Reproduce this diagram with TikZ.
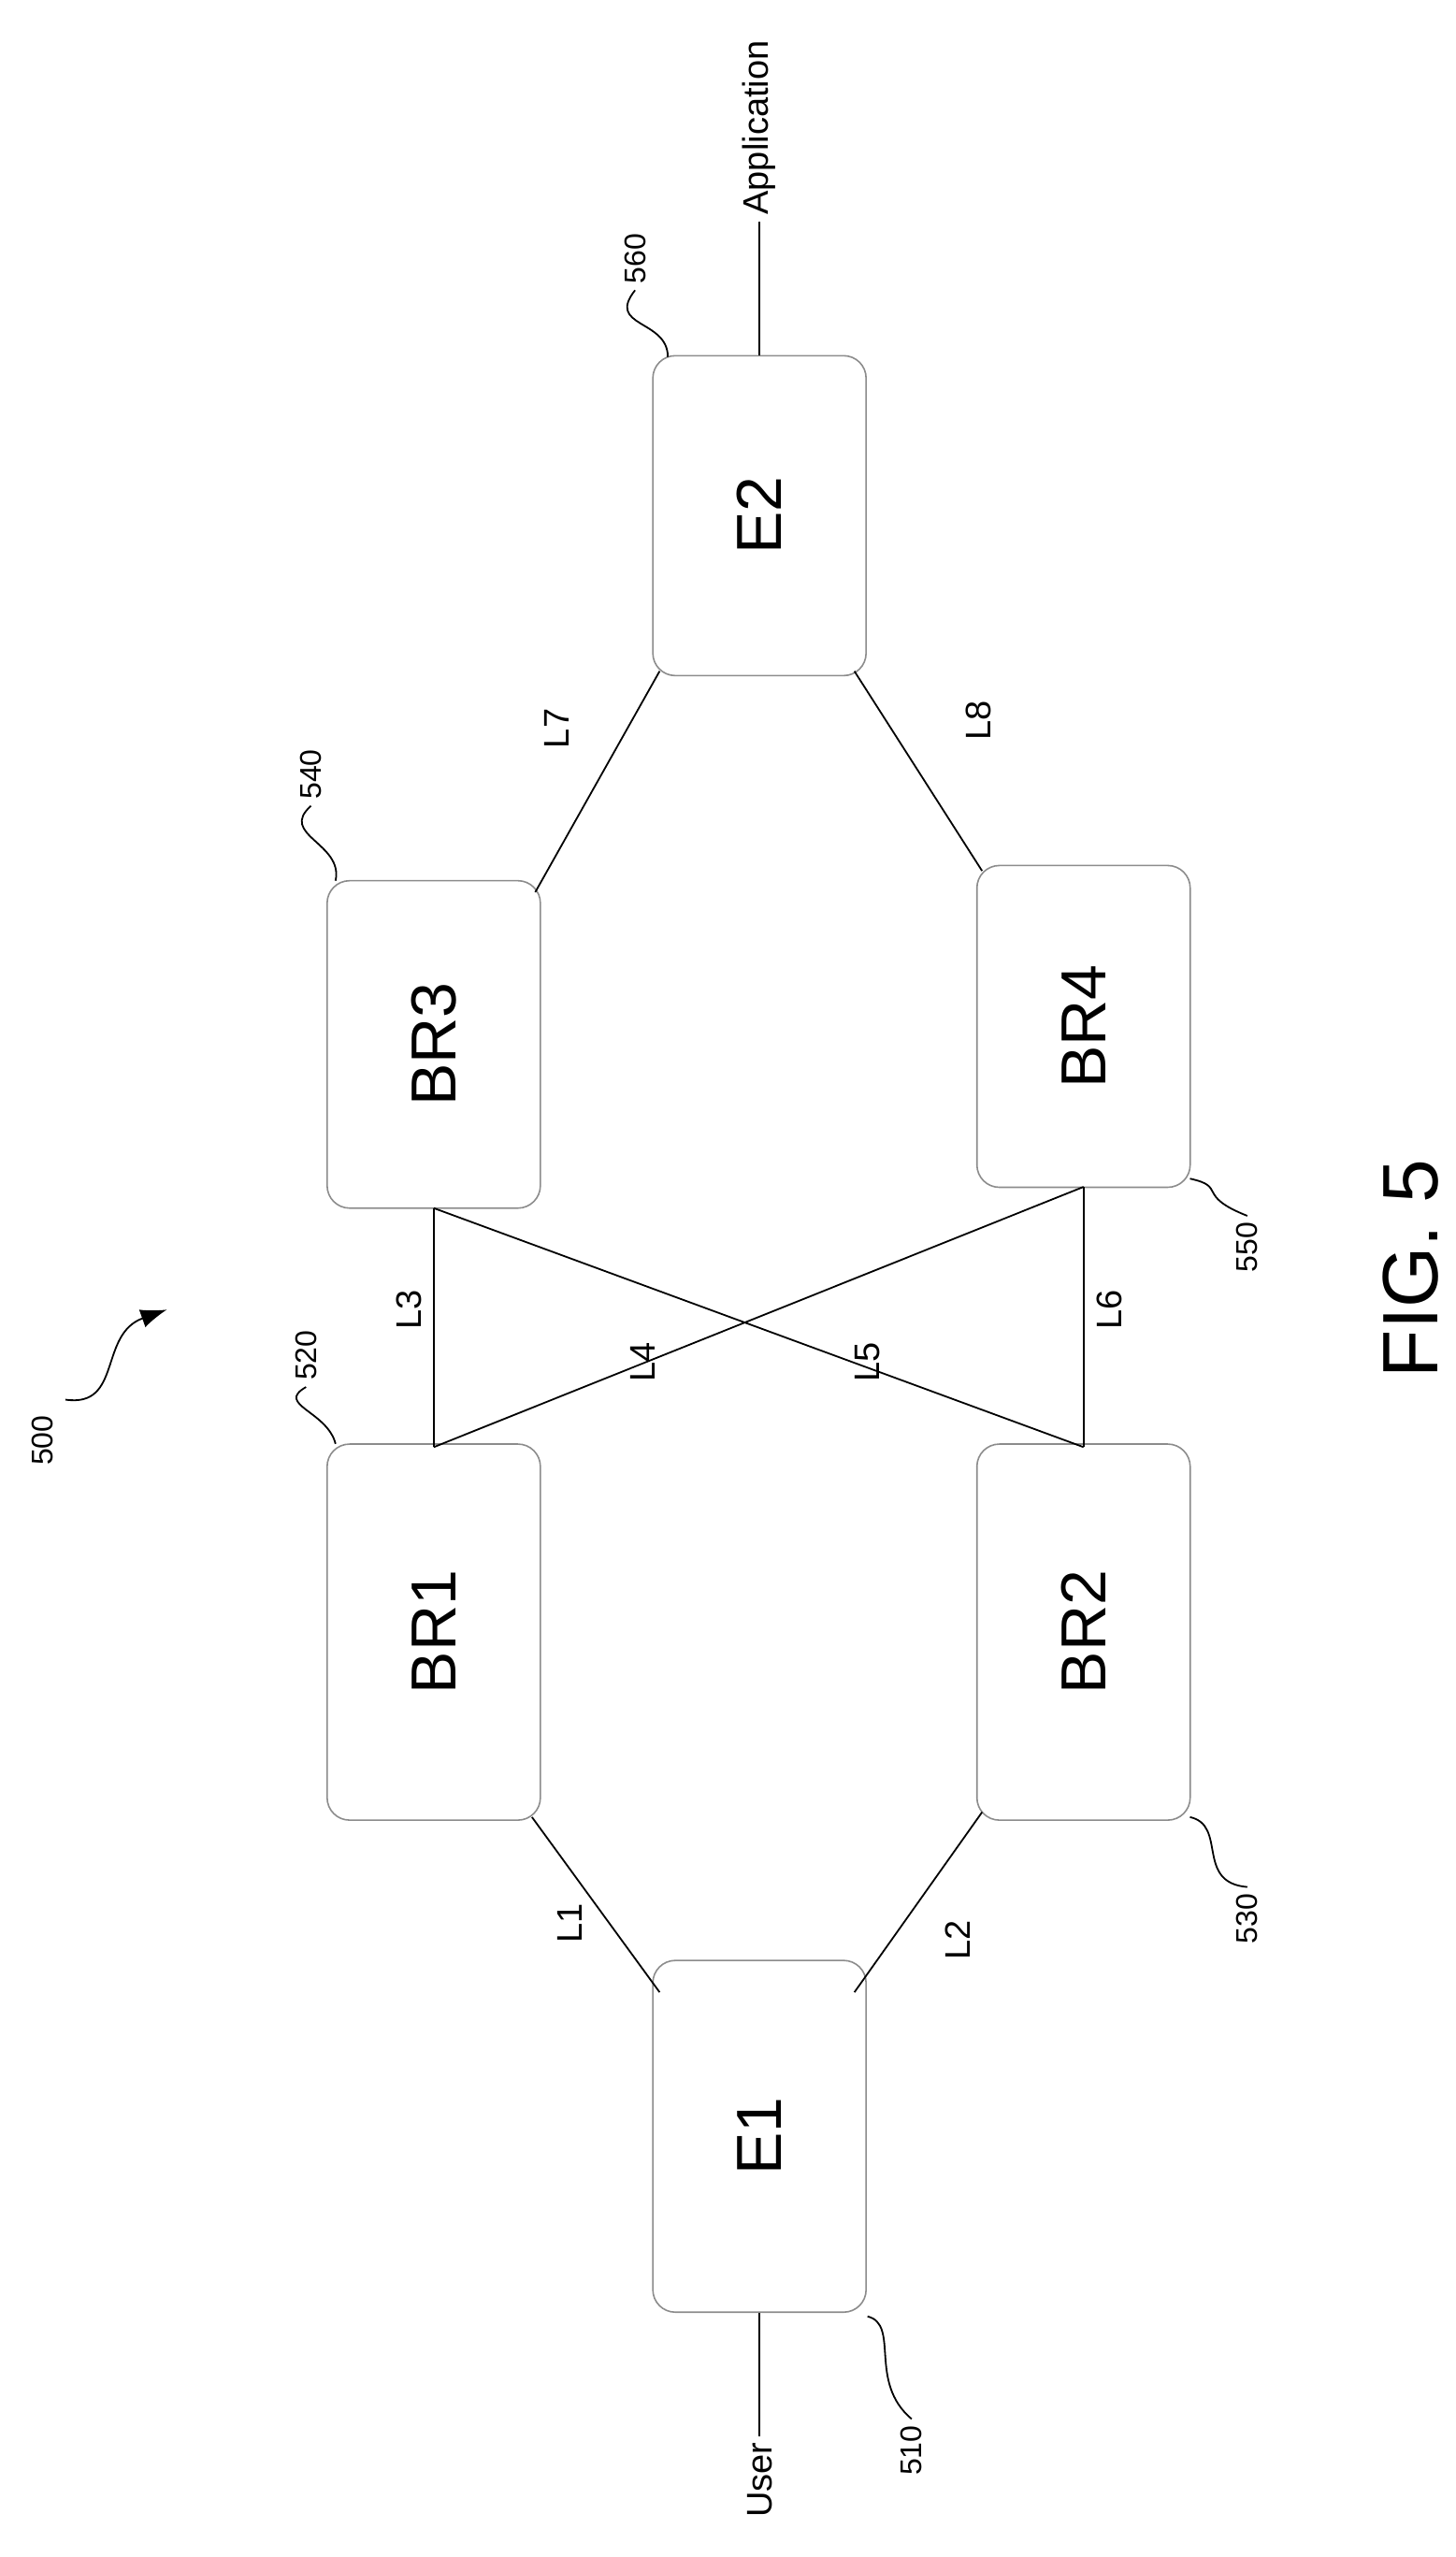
\documentclass[tikz,border=0pt]{standalone}
\usepackage{fontspec}
\setmainfont{Liberation Sans}
\usetikzlibrary{arrows.meta}
\begin{document}
\begin{tikzpicture}[x=0.875pt,y=-0.875pt,
 box/.style={draw=black!45,line width=0.8pt,rounded corners=12pt,minimum width=114pt,inner sep=0pt,font=\fontsize{34}{34}\selectfont},
 lnk/.style={line width=0.9pt},
 lab/.style={rotate=90,font=\fontsize{19}{19}\selectfont},
 num/.style={rotate=90,font=\fontsize{16}{16}\selectfont},
 lead/.style={line width=0.9pt}]
\useasboundingbox (0,0) rectangle (889,1562);
\node[box,minimum height=188pt] (e1) at (464,1305) {\rotatebox{90}{E1}};
\node[box,minimum height=171pt] (e2) at (464,315) {\rotatebox{90}{E2}};
\node[box,minimum height=201pt] (br1) at (265,997) {\rotatebox{90}{BR1}};
\node[box,minimum height=201pt] (br2) at (662,997) {\rotatebox{90}{BR2}};
\node[box,minimum height=175pt] (br3) at (265,638) {\rotatebox{90}{BR3}};
\node[box,minimum height=172pt] (br4) at (662,627) {\rotatebox{90}{BR4}};
\coordinate (a1) at (403,1217); \coordinate (b1) at (325,1110);
\coordinate (a2) at (522,1217); \coordinate (b2) at (600,1107);
\coordinate (t1) at (265,884); \coordinate (t3) at (265,738);
\coordinate (t2) at (662,884); \coordinate (t4) at (662,725);
\coordinate (c3) at (327,545); \coordinate (d2) at (403,410);
\coordinate (d3) at (522,410); \coordinate (c4) at (600,532);
\draw[lnk] (a1)--(b1); \draw[lnk] (a2)--(b2);
\draw[lnk] (t1)--(t3); \draw[lnk] (t2)--(t4);
\draw[lnk] (t1)--(t4); \draw[lnk] (t3)--(t2);
\draw[lnk] (c3)--(d2); \draw[lnk] (d3)--(c4);
\node[lab] (l1) at (348,1175) {L1};
\node[lab] (l2) at (585,1185) {L2};
\node[lab] (l3) at (250,800) {L3};
\node[lab] (l4) at (393,832) {L4};
\node[lab] (l5) at (530,832) {L5};
\node[lab] (l6) at (678,800) {L6};
\node[lab] (l7) at (340,445) {L7};
\node[lab] (l8) at (598,440) {L8};
\node[lab] (user) at (464,1515) {User};
\node[lab] (app) at (464,78) {Application};
\draw[lnk] (e1.south) -- (user.east);
\draw[lnk] (e2.north) -- (app.west);
\node[num] (n510) at (557,1497) {510};
\node[num] (n520) at (187,828) {520};
\node[num] (n530) at (762,1172) {530};
\node[num] (n540) at (190,473) {540};
\node[num] (n550) at (762,762) {550};
\node[num] (n560) at (388,158) {560};
\node[num] (n500) at (26,880) {500};
\draw[lead] (530,1415) .. controls (550,1420) and (530,1455) .. (n510.east);
\draw[lead] (205,882) .. controls (200,862) and (168,858) .. (n520.west);
\draw[lead] (727,1110) .. controls (750,1115) and (730,1150) .. (n530.east);
\draw[lead] (205,538) .. controls (210,515) and (170,510) .. (n540.west);
\draw[lead] (727,720) .. controls (750,725) and (730,730) .. (n550.east);
\draw[lead] (408,218) .. controls (408,195) and (370,200) .. (n560.west);
\draw[lead,-{Latex[length=14pt,width=10pt]}] (40,855) .. controls (75,860) and (60,815) .. (102,800);
\node[rotate=90,font=\fontsize{42}{42}\selectfont] (fig) at (862,775) {FIG. 5};
\end{tikzpicture}
\end{document}
